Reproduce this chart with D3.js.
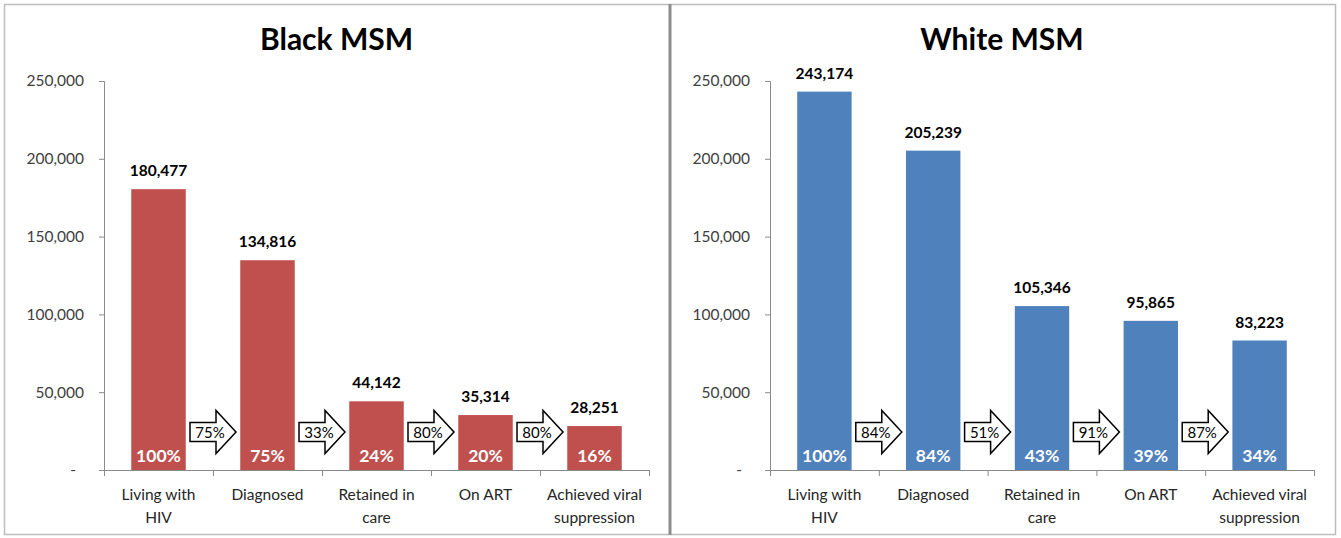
<!DOCTYPE html>
<html>
<head>
<meta charset="utf-8">
<script src="https://cdn.jsdelivr.net/npm/d3@7"></script>
<style>
  html, body { margin: 0; padding: 0; background: #fff; }
  svg { display: block; font-family: Lato, "Liberation Sans", sans-serif; }
</style>
</head>
<body>
<svg id="chart" width="1341" height="538"></svg>
<script>
// Care continuum stages (two-line labels)
const stages = [
  ["Living with", "HIV"],
  ["Diagnosed"],
  ["Retained in", "care"],
  ["On ART"],
  ["Achieved viral", "suppression"]
];
const stageKeys = ["living", "diagnosed", "retained", "onart", "suppressed"];

const blackValues = [180477, 134816, 44142, 35314, 28251];
const blackPercent = [100, 75, 24, 20, 16];
const blackStepPercent = [75, 33, 80, 80];

const whiteValues = [243174, 205239, 105346, 95865, 83223];
const whitePercent = [100, 84, 43, 39, 34];
const whiteStepPercent = [84, 51, 91, 87];

const yTicks = [0, 50000, 100000, 150000, 200000, 250000];

const panels = [
  { title: "Black MSM", values: blackValues, pct: blackPercent, steps: blackStepPercent,
    color: "#C0504D", x0: 104, x1: 649 },
  { title: "White MSM", values: whiteValues, pct: whitePercent, steps: whiteStepPercent,
    color: "#4F81BD", x0: 770, x1: 1314 }
];

const svg = d3.select("#chart");

// Outer frame and divider
svg.append("rect").attr("x", 4.5).attr("y", 4.5).attr("width", 1331).attr("height", 530)
  .attr("fill", "none").attr("stroke", "#bdbdbd").attr("stroke-width", 1.5);
svg.append("line").attr("x1", 670).attr("x2", 670).attr("y1", 4).attr("y2", 535)
  .attr("stroke", "#8c8c8c").attr("stroke-width", 3);

const fmt = d3.format(",");
const y = d3.scaleLinear().domain([0, 250000]).range([470, 81]);

panels.forEach(p => {
  const g = svg.append("g");
  const x = d3.scaleBand().domain(stageKeys).range([p.x0, p.x1]).paddingInner(0).paddingOuter(0);
  const barW = x.bandwidth() * 0.5;

  // Title
  g.append("text").attr("x", (p.x0 + p.x1) / 2 - 40).attr("y", 50)
    .attr("text-anchor", "middle").attr("font-size", 30).attr("font-weight", 700)
    .attr("fill", "#000").text(p.title);

  // Y axis
  const yAxis = d3.axisLeft(y).tickValues(yTicks).tickSize(5).tickPadding(15)
    .tickFormat(d => d === 0 ? "-" : fmt(d));
  const ya = g.append("g").attr("transform", `translate(${p.x0},0)`).call(yAxis);
  ya.select(".domain").attr("stroke", "#8a8a8a");
  ya.selectAll(".tick line").attr("stroke", "#8a8a8a");
  ya.selectAll(".tick text").attr("font-size", 15.5).attr("fill", "#404040")
    .attr("font-family", "Lato, 'Liberation Sans', sans-serif")
    .attr("dx", d => d === 0 ? -8 : 0);

  // X axis line with ticks at band edges
  g.append("line").attr("x1", p.x0).attr("x2", p.x1).attr("y1", 470.5).attr("y2", 470.5)
    .attr("stroke", "#8a8a8a");
  const edges = stageKeys.map(k => x(k)).concat([p.x1]);
  g.selectAll(".xt").data(edges).join("line")
    .attr("x1", d => d + 0.5).attr("x2", d => d + 0.5).attr("y1", 470).attr("y2", 476)
    .attr("stroke", "#8a8a8a");

  // Bars
  g.selectAll(".bar").data(p.values).join("rect")
    .attr("x", (d, i) => x(stageKeys[i]) + (x.bandwidth() - barW) / 2)
    .attr("y", d => y(d))
    .attr("width", barW)
    .attr("height", d => y(0) - y(d))
    .attr("fill", p.color);

  // Value labels
  g.selectAll(".val").data(p.values).join("text")
    .attr("x", (d, i) => x(stageKeys[i]) + x.bandwidth() / 2)
    .attr("y", d => y(d) - 13)
    .attr("text-anchor", "middle").attr("font-size", 15.5).attr("font-weight", 700)
    .attr("fill", "#000").text(d => fmt(d));

  // Percent labels inside bars
  g.selectAll(".pct").data(p.pct).join("text")
    .attr("x", (d, i) => x(stageKeys[i]) + x.bandwidth() / 2)
    .attr("y", 462)
    .attr("text-anchor", "middle").attr("font-size", 17.5).attr("font-weight", 700)
    .attr("fill", "#fff").text(d => d + "%");

  // Category labels
  stages.forEach((lines, i) => {
    const t = g.append("text").attr("text-anchor", "middle").attr("font-size", 15.5)
      .attr("fill", "#262626");
    lines.forEach((ln, j) => {
      t.append("tspan").attr("x", x(stageKeys[i]) + x.bandwidth() / 2)
        .attr("y", 500 + j * 23).text(ln);
    });
  });

  // Step arrows between bars
  p.steps.forEach((s, i) => {
    const cx = x(stageKeys[i + 1]);
    const left = cx - 23, bodyR = cx + 3, tip = cx + 23;
    const top = 422.5, bot = 441.5, hTop = 410.5, hBot = 453.5, mid = (top + bot) / 2;
    const path = `M${left},${top}L${bodyR},${top}L${bodyR},${hTop}L${tip},${mid}L${bodyR},${hBot}L${bodyR},${bot}L${left},${bot}Z`;
    g.append("path").attr("d", path).attr("fill", "#fff").attr("stroke", "#000").attr("stroke-width", 1.5);
    g.append("text").attr("x", cx - 3).attr("y", mid + 5.5)
      .attr("text-anchor", "middle").attr("font-size", 15).attr("fill", "#000").text(s + "%");
  });
});
</script>
</body>
</html>
